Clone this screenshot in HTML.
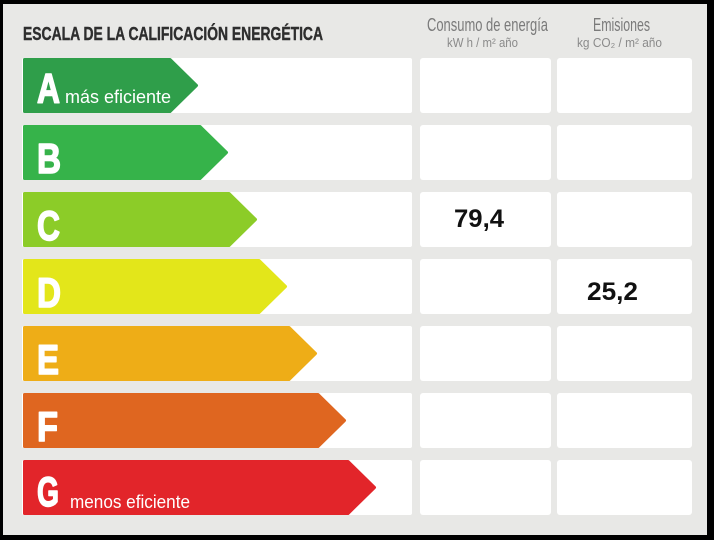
<!DOCTYPE html>
<html>
<head>
<meta charset="utf-8">
<style>
html,body{margin:0;padding:0;background:#000;}
body{width:714px;height:540px;overflow:hidden;}
svg{display:block;}
</style>
</head>
<body>
<svg width="714" height="540" viewBox="0 0 714 540" xmlns="http://www.w3.org/2000/svg">
  <rect x="0" y="0" width="714" height="540" fill="#000"/>
  <rect x="3" y="4" width="704" height="531" fill="#e8e8e6"/>

  <!-- title -->
  <text x="23" y="40" font-family="Liberation Sans, Arial, sans-serif" font-weight="bold" font-size="18" fill="#2e2e2e" stroke="#2e2e2e" stroke-width="0.4" textLength="300" lengthAdjust="spacingAndGlyphs">ESCALA DE LA CALIFICACIÓN ENERGÉTICA</text>

  <!-- headers -->
  <text x="427" y="31" font-family="Liberation Sans, Arial, sans-serif" font-size="18" fill="#7a7a7a" textLength="121" lengthAdjust="spacingAndGlyphs">Consumo de energía</text>
  <text x="447" y="47" font-family="Liberation Sans, Arial, sans-serif" font-size="13" fill="#8a8a8a" textLength="71" lengthAdjust="spacingAndGlyphs">kW h / m² año</text>
  <text x="593" y="31" font-family="Liberation Sans, Arial, sans-serif" font-size="18" fill="#7a7a7a" textLength="57" lengthAdjust="spacingAndGlyphs">Emisiones</text>
  <text x="577" y="47" font-family="Liberation Sans, Arial, sans-serif" font-size="13" fill="#8a8a8a" textLength="85" lengthAdjust="spacingAndGlyphs">kg CO₂ / m² año</text>

  <!-- white cells -->
  <g fill="#ffffff">
    <rect x="22" y="58" width="390" height="55" rx="2"/>
    <rect x="420" y="58" width="131" height="55" rx="3"/>
    <rect x="557" y="58" width="135" height="55" rx="3"/>

    <rect x="22" y="125" width="390" height="55" rx="2"/>
    <rect x="420" y="125" width="131" height="55" rx="3"/>
    <rect x="557" y="125" width="135" height="55" rx="3"/>

    <rect x="22" y="192" width="390" height="55" rx="2"/>
    <rect x="420" y="192" width="131" height="55" rx="3"/>
    <rect x="557" y="192" width="135" height="55" rx="3"/>

    <rect x="22" y="259" width="390" height="55" rx="2"/>
    <rect x="420" y="259" width="131" height="55" rx="3"/>
    <rect x="557" y="259" width="135" height="55" rx="3"/>

    <rect x="22" y="326" width="390" height="55" rx="2"/>
    <rect x="420" y="326" width="131" height="55" rx="3"/>
    <rect x="557" y="326" width="135" height="55" rx="3"/>

    <rect x="22" y="393" width="390" height="55" rx="2"/>
    <rect x="420" y="393" width="131" height="55" rx="3"/>
    <rect x="557" y="393" width="135" height="55" rx="3"/>

    <rect x="22" y="460" width="390" height="55" rx="2"/>
    <rect x="420" y="460" width="131" height="55" rx="3"/>
    <rect x="557" y="460" width="135" height="55" rx="3"/>
  </g>

  <!-- bars -->
  <g stroke-linejoin="round" stroke-width="3">
    <polygon points="24.5,59.5 170,59.5 196.5,85.5 170,111.5 24.5,111.5" fill="#2f9e4a" stroke="#2f9e4a"/>
    <polygon points="24.5,126.5 200,126.5 226.5,152.5 200,178.5 24.5,178.5" fill="#36b34a" stroke="#36b34a"/>
    <polygon points="24.5,193.5 229,193.5 255.5,219.5 229,245.5 24.5,245.5" fill="#8ccc28" stroke="#8ccc28"/>
    <polygon points="24.5,260.5 259,260.5 285.5,286.5 259,312.5 24.5,312.5" fill="#e3e61a" stroke="#e3e61a"/>
    <polygon points="24.5,327.5 289,327.5 315.5,353.5 289,379.5 24.5,379.5" fill="#eead17" stroke="#eead17"/>
    <polygon points="24.5,394.5 318,394.5 344.5,420.5 318,446.5 24.5,446.5" fill="#df6620" stroke="#df6620"/>
    <polygon points="24.5,461.5 348,461.5 374.5,487.5 348,513.5 24.5,513.5" fill="#e2252a" stroke="#e2252a"/>
  </g>

  <!-- letters -->
  <g font-family="Liberation Sans, Arial, sans-serif" font-weight="bold" font-size="42" fill="#ffffff" stroke="#ffffff" stroke-width="1.6" stroke-linejoin="round">
    <text x="37" y="103" textLength="23" lengthAdjust="spacingAndGlyphs">A</text>
    <text x="37" y="173" textLength="24" lengthAdjust="spacingAndGlyphs">B</text>
    <text x="37" y="240" textLength="23" lengthAdjust="spacingAndGlyphs">C</text>
    <text x="37" y="307" textLength="24" lengthAdjust="spacingAndGlyphs">D</text>
    <text x="37" y="374" textLength="22" lengthAdjust="spacingAndGlyphs">E</text>
    <text x="37" y="441" textLength="21" lengthAdjust="spacingAndGlyphs">F</text>
    <text x="37" y="506" textLength="22" lengthAdjust="spacingAndGlyphs">G</text>
  </g>
  <g font-family="Liberation Sans, Arial, sans-serif" font-size="18" fill="#ffffff">
    <text x="65" y="103" textLength="106" lengthAdjust="spacingAndGlyphs">más eficiente</text>
    <text x="70" y="508" textLength="120" lengthAdjust="spacingAndGlyphs">menos eficiente</text>
  </g>

  <!-- values -->
  <g font-family="Liberation Sans, Arial, sans-serif" font-weight="bold" font-size="25" fill="#111111">
    <text x="454" y="227" textLength="50" lengthAdjust="spacingAndGlyphs">79,4</text>
    <text x="587" y="300" textLength="51" lengthAdjust="spacingAndGlyphs">25,2</text>
  </g>
</svg>
</body>
</html>
